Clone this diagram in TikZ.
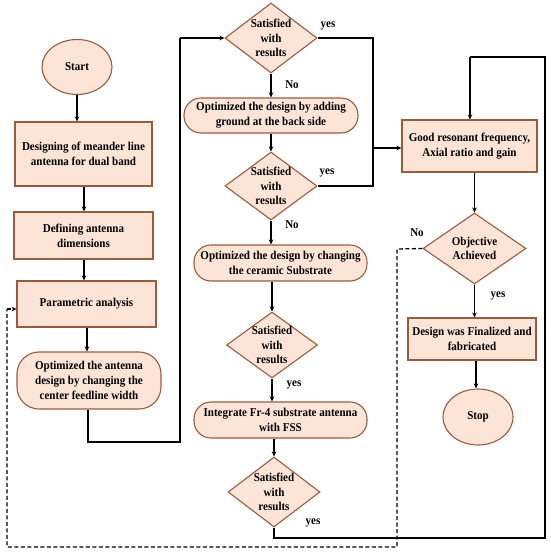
\documentclass[tikz,border=0pt]{standalone}
\usepackage{fontspec}
\setmainfont{Liberation Serif}[FakeStretch=0.92]
\usetikzlibrary{shapes.geometric,arrows.meta}
\definecolor{boxfill}{HTML}{FCE4D6}
\definecolor{boxline}{HTML}{9C5A3C}
\tikzset{
  x=1pt,y=-1pt,
  txt/.style={font=\bfseries\fontsize{12}{15}\selectfont,align=center},
  rectbox/.style={txt,draw=boxline,fill=boxfill,line width=1.1pt,inner sep=2pt},
  roundbox/.style={rectbox,rounded corners=17pt},
  ellbox/.style={txt,ellipse,draw=boxline,fill=boxfill,line width=1.1pt,inner sep=0pt},
  dia/.style={diamond,draw=boxline,fill=boxfill,line width=1.1pt,inner sep=0pt},
  dlab/.style={font=\bfseries\fontsize{12}{14.5}\selectfont,align=center},
  conn/.style={line width=1.3pt,black},
  arr/.style={conn,-{Stealth[length=5pt,width=4.5pt]}},
  dashline/.style={conn,dash pattern=on 4pt off 2.5pt},
  lab/.style={font=\bfseries\fontsize{12}{13}\selectfont}
}
\begin{document}
\begin{tikzpicture}
\useasboundingbox (0,0) rectangle (550,554);
% left column
\node[ellbox,minimum width=70pt,minimum height=55pt] (start) at (77,67) {Start};
\node[rectbox,minimum width=137pt,minimum height=64pt] (b1) at (83.5,154) {Designing of meander line\\antenna for dual band};
\node[rectbox,minimum width=139pt,minimum height=47pt] (b2) at (83.5,235.5) {Defining antenna\\dimensions};
\node[rectbox,minimum width=139pt,minimum height=46pt] (b3) at (86.5,304) {Parametric analysis};
\node[roundbox,rounded corners=22pt,minimum width=144pt,minimum height=57pt] (r1) at (89,380.5) {Optimized the antenna\\design by changing the\\center feedline width};
% middle column
\node[dia,minimum width=92pt,minimum height=70pt,label={[dlab]center:Satisfied\\with\\results}] (d1) at (271,38) {};
\node[roundbox,minimum width=174pt,minimum height=35pt] (r2) at (271,115.5) {Optimized the design by adding\\ground at the back side};
\node[dia,minimum width=92pt,minimum height=68pt,label={[dlab]center:Satisfied\\with\\results}] (d2) at (271,186) {};
\node[roundbox,minimum width=173pt,minimum height=36pt] (r3) at (280.5,263) {Optimized the design by changing\\the ceramic Substrate};
\node[dia,minimum width=91pt,minimum height=66pt,label={[dlab]center:Satisfied\\with\\results}] (d3) at (272,345) {};
\node[roundbox,minimum width=173pt,minimum height=36pt] (r4) at (280.5,420) {Integrate Fr-4 substrate antenna\\with FSS};
\node[dia,minimum width=92pt,minimum height=70pt,label={[dlab]center:Satisfied\\with\\results}] (d4) at (274,492) {};
% right column
\node[rectbox,minimum width=135pt,minimum height=52pt] (g) at (469.5,146) {Good resonant frequency,\\Axial ratio and gain};
\node[dia,minimum width=103pt,minimum height=71pt,label={[dlab]center:Objective\\Achieved}] (obj) at (474.5,248.5) {};
\node[rectbox,minimum width=128pt,minimum height=42pt] (fin) at (472,339) {Design was Finalized and\\fabricated};
\node[ellbox,minimum width=70pt,minimum height=56pt] (stop) at (478,417) {Stop};
% labels
\node[lab] (y1) at (328,26) {yes};
\node[lab] (n1) at (292,85) {No};
\node[lab] (y2) at (327,173) {yes};
\node[lab] (n2) at (292,225) {No};
\node[lab] (y3) at (294,385) {yes};
\node[lab] (y4) at (313,523) {yes};
\node[lab] (n3) at (417,233) {No};
\node[lab] (y5) at (498,296) {yes};
% coordinates
\coordinate (x84) at (84,0);
\coordinate (x87) at (87,0);
\coordinate (x475) at (475,0);
\coordinate (x476) at (476,0);
\coordinate (l1) at (88,442);
\coordinate (l2) at (180,442);
\coordinate (l3) at (180,38);
\coordinate (j1) at (373,38);
\coordinate (j2) at (373,186);
\coordinate (jm) at (373,148);
\coordinate (q1) at (274,538);
\coordinate (q2) at (545,538);
\coordinate (q3) at (545,57);
\coordinate (q4) at (470,57);
\coordinate (e1) at (397,249);
\coordinate (e2) at (397,547);
\coordinate (e3) at (7,547);
\coordinate (e4) at (7,309);
% connectors left
\draw[arr] (start.south) -- (start.south |- b1.north);
\draw[arr] (b1.south -| x84) -- (b2.north -| x84);
\draw[arr] (b2.south -| x84) -- (b3.north -| x84);
\draw[arr] (b3.south -| x87) -- (r1.north -| x87);
\draw[conn] (r1.south -| l1) -- (l1) -- (l2) -- (l3);
\draw[arr] (l3) -- (d1.west);
% middle
\draw[arr] (d1.south) -- (d1.south |- r2.north);
\draw[arr] (r2.south -| d2.north) -- (d2.north);
\draw[arr] (d2.south) -- (d2.south |- r3.north);
\draw[arr] (r3.south -| d3.north) -- (d3.north);
\draw[arr] (d3.south) -- (d3.south |- r4.north);
\draw[arr] (r4.south -| d4.north) -- (d4.north);
\draw[conn] (d1.east) -- (j1) -- (j2) -- (d2.east);
\draw[arr] (jm) -- (jm -| g.west);
\draw[conn] (d4.south) -- (q1) -- (q2) -- (q3) -- (q4);
\draw[arr] (q4) -- (q4 |- g.north);
% right
\draw[arr] (g.south -| obj.north) -- (obj.north);
\draw[arr] (obj.south) -- (obj.south |- fin.north);
\draw[arr] (fin.south -| x476) -- (stop.north -| x476);
\draw[dashline] (obj.west) -- (e1) -- (e2) -- (e3) -- (e4);
\draw[arr,dash pattern=on 4pt off 2.5pt] (e4) -- (e4 -| b3.west);
\end{tikzpicture}
\end{document}
